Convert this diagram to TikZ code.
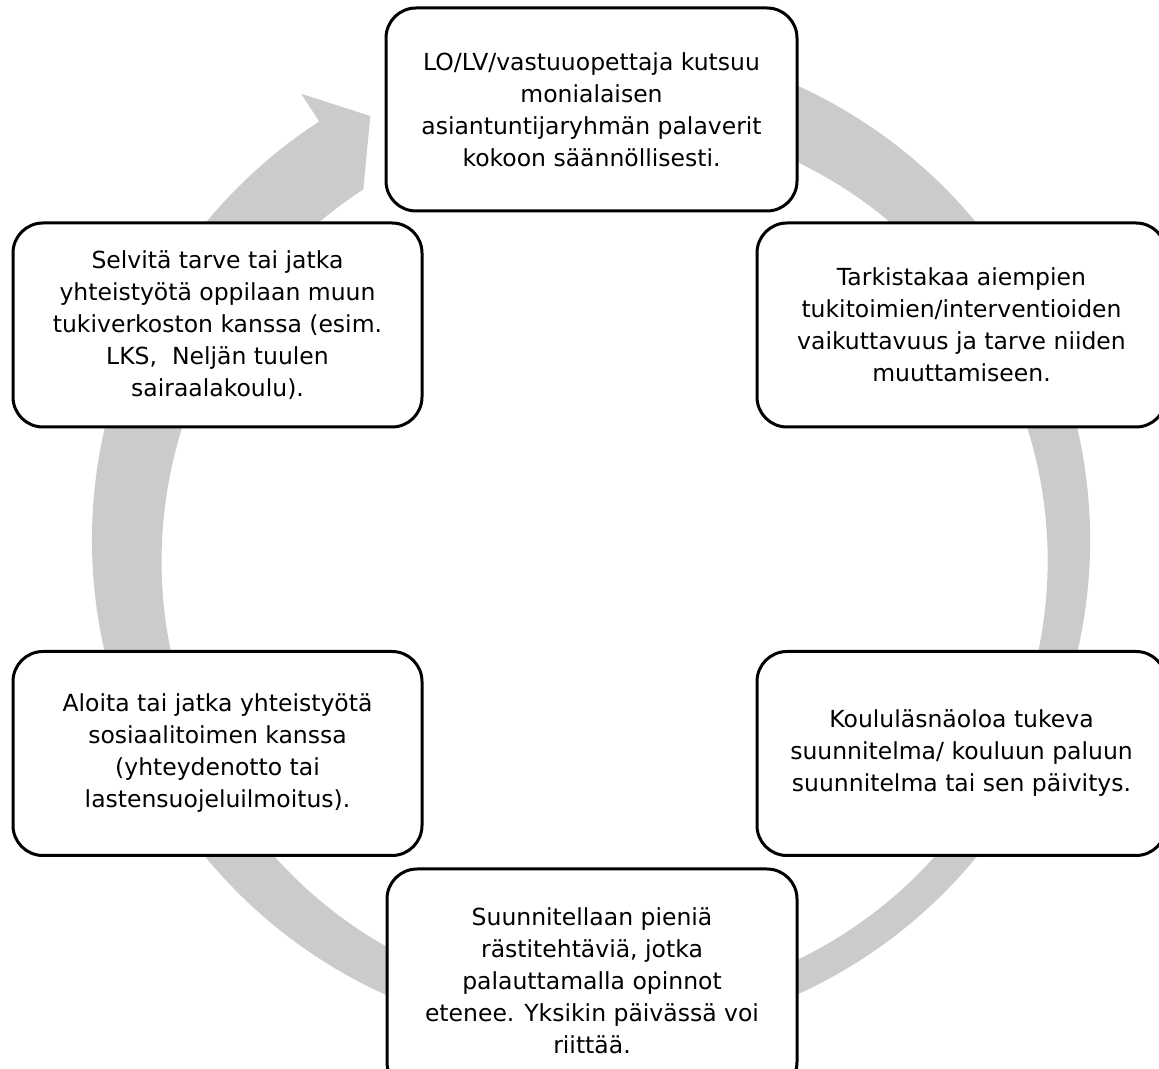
\documentclass[tikz,border=0pt]{standalone}
\usepackage{fontspec}
\usepackage{tikz}
\usetikzlibrary{calc}
\newfontfamily\boxfont{DejaVu Sans}
\definecolor{ringgray}{HTML}{CBCBCB}

\begin{document}
\begin{tikzpicture}[x=1pt, y=1pt,
    vaihe/.style={draw, line width=3pt, fill=white, rounded corners=30pt,
      minimum width=409pt, minimum height=204pt, align=center,
      font=\boxfont\fontsize{23.5}{32}\selectfont}]
  \useasboundingbox (0,0) rectangle (1159,1068);
  \coordinate (ctr) at (591,528);
  \fill[ringgray] ($(ctr)+(105:499)$) arc[start angle=105, end angle=-237, radius=499]
     -- ($(ctr)+(-237:532)$) -- ($(ctr)+(-242.5:478)$) -- ($(ctr)+(-237:418)$)
     arc[start angle=-237, end angle=105, radius=443] -- cycle;
  \node[vaihe, minimum width=411pt, minimum height=203pt] (kutsu) at (591.5,958.5)
     {LO/LV/vastuuopettaja kutsuu\\monialaisen\\asiantuntijaryhmän palaverit\\kokoon säännöllisesti.};
  \node[vaihe] (tarkistus) at (961.5,743)
     {Tarkistakaa aiempien\\tukitoimien/interventioiden\\vaikuttavuus ja tarve niiden\\muuttamiseen.};
  \node[vaihe] (suunnitelma) at (961.5,314.5)
     {Koululäsnäoloa tukeva\\suunnitelma/ kouluun paluun\\suunnitelma tai sen päivitys.};
  \node[vaihe, minimum width=410pt, minimum height=223pt] (rasti) at (592,87.5)
     {Suunnitellaan pieniä\\rästitehtäviä, jotka\\palauttamalla opinnot\\etenee. Yksikin päivässä voi\\riittää.};
  \node[vaihe] (sosiaali) at (217.5,314.5)
     {Aloita tai jatka yhteistyötä\\sosiaalitoimen kanssa\\(yhteydenotto tai\\lastensuojeluilmoitus).};
  \node[vaihe] (tukiverkko) at (217.5,743)
     {Selvitä tarve tai jatka\\yhteistyötä oppilaan muun\\tukiverkoston kanssa (esim.\\LKS,~ Neljän tuulen\\sairaalakoulu).};
\end{tikzpicture}
\end{document}
